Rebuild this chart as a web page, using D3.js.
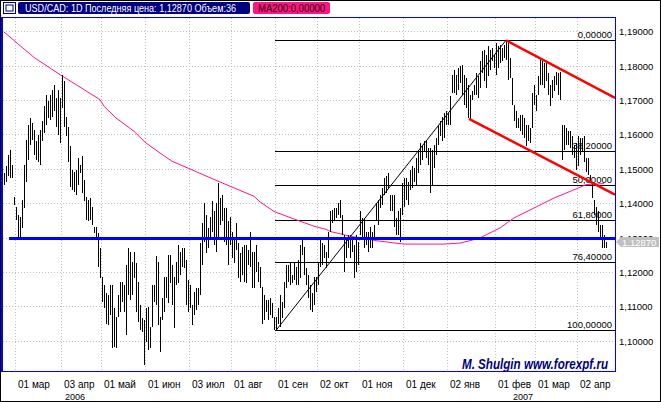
<!DOCTYPE html>
<html><head><meta charset="utf-8">
<script src="https://cdn.jsdelivr.net/npm/d3@7"></script>
<style>body{margin:0;background:#fff}svg{display:block}text{font-family:"Liberation Sans",Arial,sans-serif}</style>
</head><body><svg id="c" width="661" height="402"></svg>
<script>
// ---- data (daily bars, index 0 = first visible bar) ----
const highs=[1.1487,1.1507,1.1541,1.1555,1.1512,1.1419,1.1390,1.1366,1.1361,1.1410,
1.1512,1.1584,1.1628,1.1648,1.1633,1.1614,1.1580,1.1599,1.1614,1.1638,
1.1682,1.1716,1.1696,1.1716,1.1730,1.1745,1.1706,1.1730,1.1706,1.1774,
1.1754,1.1652,1.1623,1.1565,1.1497,1.1492,1.1497,1.1531,1.1512,1.1536,
1.1468,1.1419,1.1410,1.1414,1.1390,1.1332,1.1332,1.1313,1.1269,1.1186,
1.1162,1.1138,1.1133,1.1162,1.1162,1.1094,1.1070,1.1133,1.1172,1.1172,
1.1162,1.1220,1.1269,1.1259,1.1230,1.1259,1.1225,1.1172,1.1104,1.1065,
1.1060,1.1094,1.1099,1.1041,1.1162,1.1162,1.1245,1.1230,1.1070,1.1123,
1.1186,1.1186,1.1249,1.1249,1.1220,1.1186,1.1230,1.1279,1.1259,1.1269,
1.1269,1.1235,1.1177,1.1162,1.1104,1.1143,1.1152,1.1152,1.1283,1.1342,
1.1400,1.1366,1.1327,1.1361,1.1405,1.1376,1.1400,1.1458,1.1414,1.1424,
1.1385,1.1385,1.1347,1.1361,1.1317,1.1298,1.1342,1.1283,1.1254,1.1274,
1.1279,1.1279,1.1264,1.1317,1.1259,1.1259,1.1279,1.1230,1.1215,1.1157,
1.1133,1.1118,1.1118,1.1123,1.1109,1.1070,1.1070,1.1094,1.1133,1.1113,
1.1172,1.1220,1.1220,1.1230,1.1191,1.1225,1.1215,1.1235,1.1279,1.1293,
1.1274,1.1211,1.1191,1.1162,1.1138,1.1186,1.1186,1.1225,1.1298,1.1283,
1.1279,1.1259,1.1317,1.1376,1.1381,1.1385,1.1385,1.1400,1.1410,1.1366,
1.1308,1.1298,1.1308,1.1308,1.1303,1.1279,1.1308,1.1288,1.1376,1.1356,
1.1356,1.1317,1.1317,1.1332,1.1317,1.1337,1.1400,1.1410,1.1424,1.1444,
1.1473,1.1478,1.1487,1.1424,1.1424,1.1424,1.1356,1.1376,1.1385,1.1458,
1.1473,1.1473,1.1463,1.1497,1.1507,1.1502,1.1531,1.1555,1.1575,1.1565,
1.1580,1.1584,1.1560,1.1560,1.1555,1.1570,1.1589,1.1628,1.1638,1.1652,
1.1662,1.1667,1.1662,1.1711,1.1774,1.1788,1.1774,1.1793,1.1798,1.1803,
1.1774,1.1764,1.1745,1.1716,1.1725,1.1745,1.1779,1.1769,1.1813,1.1842,
1.1847,1.1832,1.1856,1.1847,1.1851,1.1832,1.1866,1.1856,1.1861,1.1851,
1.1861,1.1874,1.1869,1.1822,1.1764,1.1686,1.1667,1.1648,1.1657,1.1657,
1.1648,1.1628,1.1628,1.1618,1.1720,1.1745,1.1716,1.1769,1.1822,1.1813,
1.1808,1.1813,1.1779,1.1745,1.1759,1.1769,1.1783,1.1779,1.1783,1.1628,
1.1628,1.1618,1.1609,1.1609,1.1594,1.1570,1.1575,1.1594,1.1589,1.1589,
1.1594,1.1531,1.1531,1.1482,1.1463,1.1410,1.1390,1.1376,1.1337,1.1337,
1.1308,1.1288];
const lows=[1.1453,1.1463,1.1478,1.1473,1.1473,1.1395,1.1351,1.1298,1.1303,1.1327,
1.1385,1.1463,1.1526,1.1570,1.1584,1.1541,1.1526,1.1521,1.1512,1.1580,
1.1604,1.1628,1.1648,1.1643,1.1652,1.1667,1.1623,1.1599,1.1575,1.1677,
1.1623,1.1594,1.1521,1.1448,1.1439,1.1434,1.1424,1.1453,1.1487,1.1429,
1.1405,1.1351,1.1347,1.1351,1.1337,1.1313,1.1298,1.1215,1.1181,1.1113,
1.1094,1.1050,1.1046,1.1075,1.0978,1.0982,1.0978,1.1070,1.1084,1.1113,
1.1084,1.1016,1.1133,1.1118,1.1133,1.1181,1.1084,1.1055,1.1031,1.1026,
1.0929,1.0997,1.0973,1.0978,1.1041,1.1113,1.1104,1.1046,1.0968,1.1060,
1.1084,1.1123,1.1109,1.1167,1.1104,1.1036,1.1162,1.1167,1.1191,1.1215,
1.1211,1.1104,1.1084,1.1094,1.1046,1.1075,1.1089,1.1104,1.1133,1.1220,
1.1288,1.1254,1.1269,1.1298,1.1317,1.1279,1.1259,1.1293,1.1337,1.1347,
1.1288,1.1279,1.1220,1.1279,1.1240,1.1225,1.1264,1.1181,1.1172,1.1191,
1.1172,1.1167,1.1220,1.1215,1.1152,1.1152,1.1201,1.1172,1.1152,1.1050,
1.1060,1.1084,1.1060,1.1075,1.1065,1.1031,1.1030,1.1050,1.1041,1.1065,
1.1094,1.1152,1.1172,1.1162,1.1167,1.1177,1.1162,1.1162,1.1181,1.1249,
1.1191,1.1162,1.1123,1.1089,1.1084,1.1104,1.1143,1.1162,1.1215,1.1220,
1.1240,1.1211,1.1240,1.1317,1.1342,1.1347,1.1356,1.1366,1.1356,1.1308,
1.1201,1.1240,1.1269,1.1240,1.1259,1.1181,1.1201,1.1220,1.1308,1.1298,
1.1269,1.1279,1.1259,1.1269,1.1269,1.1298,1.1347,1.1337,1.1385,1.1395,
1.1424,1.1429,1.1444,1.1376,1.1376,1.1332,1.1308,1.1308,1.1288,1.1366,
1.1390,1.1410,1.1395,1.1439,1.1444,1.1463,1.1453,1.1487,1.1512,1.1526,
1.1550,1.1531,1.1512,1.1429,1.1453,1.1502,1.1541,1.1570,1.1594,1.1580,
1.1589,1.1628,1.1628,1.1628,1.1720,1.1720,1.1716,1.1730,1.1750,1.1716,
1.1686,1.1677,1.1648,1.1643,1.1701,1.1716,1.1716,1.1706,1.1735,1.1779,
1.1754,1.1735,1.1769,1.1788,1.1813,1.1793,1.1774,1.1793,1.1808,1.1813,
1.1822,1.1817,1.1759,1.1764,1.1686,1.1638,1.1618,1.1618,1.1609,1.1599,
1.1589,1.1565,1.1580,1.1575,1.1618,1.1686,1.1667,1.1716,1.1745,1.1745,
1.1735,1.1754,1.1716,1.1682,1.1706,1.1725,1.1745,1.1716,1.1701,1.1526,
1.1555,1.1570,1.1570,1.1560,1.1541,1.1531,1.1497,1.1507,1.1541,1.1550,
1.1521,1.1492,1.1482,1.1463,1.1414,1.1366,1.1337,1.1317,1.1293,1.1269,
1.1269,1.1269];
const maBars=[0,15,28,36,48,50,56,65,71,78,84,92,107,125,128,135,145,155,161,163,173,186,200,220,228,233,238,248,255,265,275,285,291,300];
const maValues=[1.1898,1.1824,1.1774,1.1745,1.1701,1.1682,1.1648,1.1609,1.1575,1.1546,1.1522,1.1502,1.1464,1.1420,1.1404,1.1376,1.1354,1.1333,1.1324,1.1318,1.1304,1.1291,1.1281,1.1281,1.1284,1.1291,1.1299,1.1328,1.1357,1.1386,1.1415,1.1439,1.1454,1.1457];
const monthLabels=["01 мар","03 апр","01 май","01 июн","03 июл","01 авг","01 сен","02 окт","01 ноя","01 дек","02 янв","01 фев","01 мар","02 апр"];
const monthBars=[6,29,49,71,93,114,136,157,178,200,222,246,266,287];
const yearLabels=["2006","2007"];
const yearBars=[30.5,254.5];
const priceTicks=[1.10,1.11,1.12,1.13,1.14,1.15,1.16,1.17,1.18,1.19];
const fibLevels=[0,38.2,50,61.8,76.4,100];
const fibLabels=["0,00000","38,20000","50,00000","61,80000","76,40000","100,00000"];
const fibHigh=1.1874, fibLow=1.1030, fibLowBar=136, fibHighBar=251;
const channelLines=[[[251,1.1874],[305.5,1.1706]],[[232.5,1.1645],[305.5,1.1425]]];
const hLinePrice=1.1297, hLineStartBar=2.5;
const lastPrice=1.12870;
const headerText="USD/CAD: 1D Последняя цена: 1,12870 Объем:36";
const maText="MA200:0,00000";
const credit="M. Shulgin www.forexpf.ru";

// ---- scales ----
const svg=d3.select("#c");
const L=3,R=615,T=18,B=371;
const x=d3.scaleLinear().domain([0,305.5]).range([4,615]);
const y=d3.scaleLinear().domain([1.10,1.19]).range([340.7,31.3]);
const fmt=v=>d3.format(".5f")(v).replace(".",",");

svg.append("rect").attr("width",661).attr("height",402).attr("fill","#fff");
svg.append("defs").append("clipPath").attr("id","pc").append("rect")
  .attr("x",L).attr("y",T).attr("width",R-L).attr("height",B-T);

// grid
const grid=svg.append("g").attr("stroke","#c0c0c0").attr("stroke-dasharray","1,2").attr("shape-rendering","crispEdges");
priceTicks.forEach(p=>grid.append("line").attr("x1",L).attr("x2",R).attr("y1",Math.round(y(p))+0.5).attr("y2",Math.round(y(p))+0.5));
monthBars.forEach(b=>grid.append("line").attr("y1",T).attr("y2",B).attr("x1",Math.round(x(b))-0.5).attr("x2",Math.round(x(b))-0.5));

const plot=svg.append("g").attr("clip-path","url(#pc)");

// fibo levels
const fibG=plot.append("g");
fibLevels.forEach((lv,k)=>{
  const p=fibHigh-(fibHigh-fibLow)*lv/100;
  const yy=Math.round(y(p))+0.5;
  fibG.append("line").attr("x1",x(fibLowBar)-1).attr("x2",R).attr("y1",yy).attr("y2",yy)
    .attr("stroke","#000").attr("shape-rendering","crispEdges");
  fibG.append("text").attr("x",612).attr("y",yy-3).attr("text-anchor","end")
    .attr("font-size","9.5px").attr("fill","#000").text(fibLabels[k]);
});

// MA200
plot.append("path").datum(maBars.map((b,k)=>[b,maValues[k]]))
  .attr("d",d3.line().x(d=>x(d[0])).y(d=>y(d[1])))
  .attr("fill","none").attr("stroke","#ff1493").attr("stroke-width",1);

// bars
plot.append("g").selectAll("line").data(highs).join("line")
  .attr("x1",(d,i)=>Math.round(x(i))+0.5).attr("x2",(d,i)=>Math.round(x(i))+0.5)
  .attr("y1",d=>y(d)).attr("y2",(d,i)=>y(lows[i]))
  .attr("stroke","#000").attr("stroke-width",1).attr("shape-rendering","crispEdges");

// fibo trend line
plot.append("line").attr("x1",x(fibLowBar)).attr("y1",y(fibLow)).attr("x2",x(fibHighBar)).attr("y2",y(fibHigh))
  .attr("stroke","#000").attr("stroke-width",1);

// channel
channelLines.forEach(c=>plot.append("line").attr("x1",x(c[0][0])).attr("y1",y(c[0][1])).attr("x2",x(c[1][0])).attr("y2",y(c[1][1]))
  .attr("stroke","#ff0000").attr("stroke-width",2.5));

// horizontal blue line
plot.append("line").attr("x1",x(hLineStartBar)).attr("x2",R).attr("y1",y(hLinePrice)).attr("y2",y(hLinePrice))
  .attr("stroke","#0000ff").attr("stroke-width",3);

// credit
svg.append("text").attr("x",462).attr("y",369).attr("font-family","'Liberation Serif',serif")
  .attr("font-weight","bold").attr("font-style","italic").attr("font-size","14px").attr("fill","#000080")
  .attr("textLength",146).attr("lengthAdjust","spacingAndGlyphs").text(credit);

// frames
svg.append("rect").attr("x",2.5).attr("y",17.5).attr("width",R-2).attr("height",B-17)
  .attr("fill","none").attr("stroke","#0000ff").attr("stroke-width",1);
svg.append("line").attr("x1",1.5).attr("x2",1.5).attr("y1",17).attr("y2",372).attr("stroke","#0000ff");
svg.append("rect").attr("x",0.5).attr("y",0.5).attr("width",660).attr("height",401)
  .attr("fill","none").attr("stroke","#000");

// right axis
const ax=svg.append("g").attr("font-size","9.5px").attr("fill","#000");
priceTicks.forEach(p=>ax.append("text").attr("x",619).attr("y",y(p)+4).text(fmt(p)));
const yb=y(lastPrice);
svg.append("path").attr("d",`M616,${yb}L621,${yb-5}L659,${yb-5}L659,${yb+5}L621,${yb+5}Z`).attr("fill","#c0c0c0");
svg.append("text").attr("x",622).attr("y",yb+3.5).attr("font-size","9.5px").attr("fill","#fff").text(fmt(lastPrice));

// bottom axis
const bx=svg.append("g").attr("font-size","10px").attr("fill","#000");
monthBars.forEach((b,k)=>bx.append("text").attr("x",Math.round(x(b))+2).attr("y",388).text(monthLabels[k]));
yearBars.forEach((b,k)=>bx.append("text").attr("x",Math.round(x(b))).attr("y",399.5).attr("font-size","9px").text(yearLabels[k]));

// header
svg.append("rect").attr("x",3.5).attr("y",2.5).attr("width",12).attr("height",11).attr("fill","#fff").attr("stroke","#000080");
svg.append("rect").attr("x",6).attr("y",5).attr("width",7).attr("height",6).attr("fill","none").attr("stroke","#000080").attr("stroke-width",1);
svg.append("rect").attr("x",18).attr("y",2).attr("width",232).attr("height",12).attr("rx",2).attr("fill","#000080");
svg.append("text").attr("x",25).attr("y",11.5).attr("font-size","10px").attr("fill","#fff")
  .attr("textLength",211).attr("lengthAdjust","spacingAndGlyphs").text(headerText);
svg.append("rect").attr("x",253).attr("y",2).attr("width",77).attr("height",12).attr("rx",2).attr("fill","#ff1480");
svg.append("text").attr("x",258).attr("y",11.5).attr("font-size","10px").attr("fill","#200010")
  .attr("textLength",67).attr("lengthAdjust","spacingAndGlyphs").text(maText);
</script></body></html>
